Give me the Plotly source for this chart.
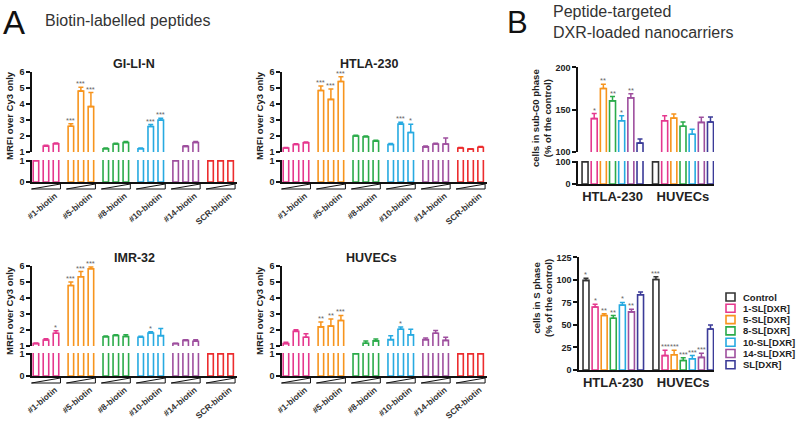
import plotly.graph_objects as go

W, H = 800, 427
FONT = "Liberation Sans, Arial, sans-serif"
TXT = "#222222"

# ---------------- Panel A data ----------------
peptides = ["#1-biotin", "#5-biotin", "#8-biotin", "#10-biotin", "#14-biotin", "SCR-biotin"]
peptide_colors = ["#e5388e", "#f7941d", "#2bab4a", "#27aae1", "#9e4f9e", "#ec2d2e"]

gilin_vals = [[1.0, 1.37, 1.52], [2.62, 4.82, 3.85], [1.2, 1.5, 1.6], [1.2, 2.6, 3.0], [1.0, 1.35, 1.6], [1.0, 1.0, 1.0]]
gilin_err = [[0, 0.05, 0.05], [0.15, 0.25, 0.88], [0.05, 0.05, 0.06], [0.05, 0.12, 0.12], [0, 0.05, 0.06], [0, 0, 0]]
gilin_sig = [["", "", ""], ["***", "***", "***"], ["", "", ""], ["", "***", "***"], ["", "", ""], ["", "", ""]]

htla_vals = [[1.25, 1.47, 1.58], [4.86, 4.3, 5.42], [2.0, 1.96, 1.68], [1.47, 2.75, 2.22], [1.32, 1.5, 1.5], [1.25, 1.18, 1.3]]
htla_err = [[0.04, 0.05, 0.05], [0.28, 0.65, 0.3], [0.05, 0.05, 0.05], [0.06, 0.12, 0.52], [0.05, 0.05, 0.38], [0.03, 0.03, 0.04]]
htla_sig = [["", "", ""], ["***", "***", "***"], ["", "", ""], ["", "***", "*"], ["", "", ""], ["", "", ""]]

imr_vals = [[1.15, 1.38, 1.8], [4.8, 5.35, 5.85], [1.58, 1.66, 1.6], [1.55, 1.82, 1.65], [1.15, 1.35, 1.3], [1.0, 1.0, 1.0]]
imr_err = [[0.04, 0.08, 0.15], [0.22, 0.32, 0.1], [0.05, 0.05, 0.1], [0.06, 0.08, 0.45], [0.03, 0.05, 0.1], [0, 0, 0]]
imr_sig = [["", "", "*"], ["***", "***", "***"], ["", "", ""], ["", "*", ""], ["", "", ""], ["", "", ""]]

huvec_vals = [[1.15, 1.92, 1.55], [2.2, 2.25, 2.6], [1.0, 1.17, 1.32], [1.4, 2.05, 1.7], [1.4, 1.8, 1.35], [1.0, 1.0, 1.0]]
huvec_err = [[0.08, 0.1, 0.22], [0.3, 0.45, 0.32], [0, 0.15, 0.12], [0.25, 0.14, 0.35], [0.1, 0.17, 0.2], [0, 0, 0]]
huvec_sig = [["", "", ""], ["**", "**", "***"], ["", "", ""], ["", "*", ""], ["", "", ""], ["", "", ""]]

a_titles = ["GI-LI-N", "HTLA-230", "IMR-32", "HUVECs"]
a_upper_ticks = [1, 2, 3, 4, 5, 6]
a_lower_ticks = [0, 1]

# ---------------- Panel B data ----------------
cell_lines = ["HTLA-230", "HUVECs"]
treatments = ["Control", "1-SL[DXR]", "5-SL[DXR]", "8-SL[DXR]", "10-SL[DXR]", "14-SL[DXR]", "SL[DXR]"]
treatment_colors = ["#333333", "#e5388e", "#f7941d", "#2bab4a", "#27aae1", "#9e4f9e", "#3b3b98"]

subg0_vals = [[100, 100], [139.5, 137], [175, 140], [160.5, 130.5], [137, 121], [164, 135], [110.5, 135.5]]
subg0_err = [[0, 0], [6, 6], [5, 5], [5, 5], [6, 6], [5, 6], [5, 6]]
subg0_sig = [["", ""], ["*", ""], ["**", ""], ["**", ""], ["*", ""], ["**", ""], ["", ""]]

sphase_vals = [[99.5, 100.5], [70, 16], [60.5, 17], [57.5, 10.5], [72, 12.5], [64.5, 14], [83.5, 45.5]]
sphase_err = [[2.5, 3], [3, 6], [2, 5], [3, 3], [3, 3.5], [3, 4.5], [3, 4.5]]
sphase_sig = [["*", "***"], ["*", "***"], ["**", "***"], ["**", "***"], ["*", "***"], ["**", "***"], ["", ""]]


def pxx(p):
    return p / W


def pxy(p):
    return 1 - p / H


fig = go.Figure()
layout = {}
annotations = []
shapes = []

AX_LINE = dict(showline=True, linecolor="#111", linewidth=1.5, showgrid=False, zeroline=False, automargin=False)
YTICK = dict(ticks="outside", ticklen=4, tickwidth=1.5, tickcolor="#111",
             tickfont=dict(family=FONT, size=9, color=TXT, weight="bold"))


def axname(kind, i):
    return kind + ("" if i == 1 else str(i))


def label(x, y, text, size, color=TXT, bold=False, xanchor="center", yanchor="middle", angle=0, align="center"):
    annotations.append(dict(xref="paper", yref="paper", x=pxx(x), y=pxy(y), text=text, showarrow=False,
                            xanchor=xanchor, yanchor=yanchor, textangle=angle, align=align,
                            font=dict(family=FONT, size=size, color=color,
                                      weight="bold" if bold else "normal")))


def star(xref, yref, x, y, text):
    annotations.append(dict(xref=xref, yref=yref, x=x, y=y, text=text, showarrow=False,
                            xanchor="center", yanchor="bottom", yshift=-3,
                            font=dict(family=FONT, size=7.5, color="#666")))


# ---------------- Panel A ----------------
a_sets = [(gilin_vals, gilin_err, gilin_sig), (htla_vals, htla_err, htla_sig),
          (imr_vals, imr_err, imr_sig), (huvec_vals, huvec_err, huvec_sig)]
a_xpx = [(32, 237), (282, 487), (32, 237), (282, 487)]
a_upper_px = [(72, 152), (72, 152), (266, 346), (266, 346)]
a_lower_px = [(160, 182), (160, 182), (353, 376), (353, 376)]
a_title_px = [(134, 64), (369, 64), (134, 258), (371, 258)]
a_ytitle_px = [(9, 116), (259, 116), (9, 311), (259, 311)]
A_RANGE = (-0.4, 5.47)
bw = 0.158
centers = [-0.287, 0.0, 0.287]

for i, (vals, errs, sigs) in enumerate(a_sets):
    xi = i + 1
    ylo, yup = 2 * i + 1, 2 * i + 2
    xa, yl, yu = axname("x", xi), axname("y", ylo), axname("y", yup)
    x0, x1 = a_xpx[i]
    layout[axname("xaxis", xi)] = dict(
        domain=[pxx(x0), pxx(x1)], anchor=yl, range=list(A_RANGE), type="category",
        categoryorder="array", categoryarray=peptides,
        ticks="", tickangle=-40, ticklabelstandoff=4, ticklabelshift=9,
        tickfont=dict(family=FONT, size=8.5, color="#333", weight="bold"), **AX_LINE)
    layout[axname("yaxis", ylo)] = dict(
        domain=[pxy(a_lower_px[i][1]), pxy(a_lower_px[i][0])], anchor=xa, range=[0, 1.04],
        tickvals=a_lower_ticks, **YTICK, **AX_LINE)
    layout[axname("yaxis", yup)] = dict(
        domain=[pxy(a_upper_px[i][1]), pxy(a_upper_px[i][0])], anchor=xa, range=[1, 6.02],
        tickvals=a_upper_ticks, **YTICK, **AX_LINE)
    for g, pep in enumerate(peptides):
        col = peptide_colors[g]
        for d in range(3):
            v = vals[g][d]
            e = errs[g][d]
            common = dict(x=[pep], offset=centers[d] - bw / 2, width=bw, xaxis=xa,
                          marker=dict(color="rgba(0,0,0,0)", line=dict(color=col, width=1.6)),
                          showlegend=False, hoverinfo="skip")
            fig.add_trace(go.Bar(y=[v], yaxis=yl, **common))
            if v > 1.0:
                fig.add_trace(go.Bar(y=[v], yaxis=yu,
                                     error_y=dict(type="data", symmetric=False, array=[e], arrayminus=[0],
                                                  color=col, thickness=1.5, width=2.5),
                                     **common))
                if sigs[g][d]:
                    star(xa, yu, g + centers[d], v + e, sigs[g][d])
        # dose wedge below the axis
        u = (x1 - x0) / (A_RANGE[1] - A_RANGE[0])
        cx = x0 + (g - A_RANGE[0]) * u
        ybase = a_lower_px[i][1]
        xl, xr = pxx(cx - 14.5), pxx(cx + 14.5)
        yt, yb = pxy(ybase + 2), pxy(ybase + 7)
        shapes.append(dict(type="path", xref="paper", yref="paper",
                           path=f"M {xl},{yb} L {xr},{yt} L {xr},{yb} Z",
                           line=dict(color="#111", width=1), fillcolor="#ffffff"))
    tx, ty = a_title_px[i]
    label(tx, ty, a_titles[i], 12.5, bold=True)
    yx, yy = a_ytitle_px[i]
    label(yx, yy, "MRFI over Cy3 only", 9.5, bold=True, angle=-90)

# ---------------- Panel B ----------------
B_RANGE = (-0.49, 1.44)
bbw = 0.085
bpitch = 0.13


def b_bars(xa, yaxis, vals, errs, sigs, base, with_err):
    for k, name in enumerate(treatments):
        col = treatment_colors[k]
        c = (k - 3) * bpitch
        ys = [v if v > base else None for v in vals[k]] if base is not None else vals[k]
        kw = {}
        if with_err:
            kw["error_y"] = dict(type="data", symmetric=False, array=errs[k], arrayminus=[0, 0],
                                 color=col, thickness=1.5, width=2.5)
        fig.add_trace(go.Bar(x=cell_lines, y=ys, offset=c - bbw / 2, width=bbw, xaxis=xa, yaxis=yaxis,
                             marker=dict(color="rgba(0,0,0,0)", line=dict(color=col, width=1.6)),
                             showlegend=False, hoverinfo="skip", name=name, **kw))
        if with_err:
            for j in range(2):
                if sigs[k][j] and ys[j] is not None:
                    star(xa, yaxis, j + c, vals[k][j] + errs[k][j], sigs[k][j])


BXTICK = dict(ticks="", tickfont=dict(family=FONT, size=13, color=TXT, weight="bold"))

# top: sub-G0 (broken axis)
layout["xaxis5"] = dict(domain=[pxx(578), pxx(714)], anchor="y9", range=list(B_RANGE), type="category",
                        categoryorder="array", categoryarray=cell_lines, **BXTICK, **AX_LINE)
layout["yaxis9"] = dict(domain=[pxy(184), pxy(161)], anchor="x5", range=[0, 104], tickvals=[0, 100],
                        **YTICK, **AX_LINE)
layout["yaxis10"] = dict(domain=[pxy(152), pxy(67)], anchor="x5", range=[100, 200.5], tickvals=[100, 150, 200],
                         **YTICK, **AX_LINE)
b_bars("x5", "y9", subg0_vals, subg0_err, subg0_sig, None, False)
b_bars("x5", "y10", subg0_vals, subg0_err, subg0_sig, 100, True)

# bottom: S phase
layout["xaxis6"] = dict(domain=[pxx(579), pxx(714)], anchor="y11", range=list(B_RANGE), type="category",
                        categoryorder="array", categoryarray=cell_lines, **BXTICK, **AX_LINE)
layout["yaxis11"] = dict(domain=[pxy(370), pxy(257)], anchor="x6", range=[0, 125.5],
                         tickvals=[0, 25, 50, 75, 100, 125], **YTICK, **AX_LINE)
b_bars("x6", "y11", sphase_vals, sphase_err, sphase_sig, None, True)

label(542, 118, "cells in sub-G0 phase<br>(% of the control)", 9.5, bold=True, angle=-90)
label(542, 298, "cells in S phase<br>(% of the control)", 9.5, bold=True, angle=-90)

# legend (drawn as shapes + text)
for k, name in enumerate(treatments):
    yc = 297 + k * 11.3
    shapes.append(dict(type="rect", xref="paper", yref="paper",
                       x0=pxx(726), x1=pxx(735), y0=pxy(yc + 4), y1=pxy(yc - 4),
                       line=dict(color=treatment_colors[k], width=1.6), fillcolor="rgba(0,0,0,0)"))
    label(741, yc, name, 9.5, bold=True, xanchor="left")

# headers
label(1, 22, "A", 33, color="#111", xanchor="left")
label(43, 20, "Biotin-labelled peptides", 16, color="#333", xanchor="left")
label(505, 23, "B", 31, color="#111", xanchor="left")
label(551, 22, "Peptide-targeted<br>DXR-loaded nanocarriers", 16, color="#333", xanchor="left", align="left")

fig.update_layout(
    width=W, height=H, autosize=False, margin=dict(l=0, r=0, t=0, b=0, autoexpand=False),
    paper_bgcolor="white", plot_bgcolor="rgba(0,0,0,0)", barmode="overlay",
    showlegend=False, annotations=annotations, shapes=shapes,
    font=dict(family=FONT, color=TXT), **layout)

fig.write_html("out.html", config={"displayModeBar": False},
               post_script="document.body.style.margin='0';")
